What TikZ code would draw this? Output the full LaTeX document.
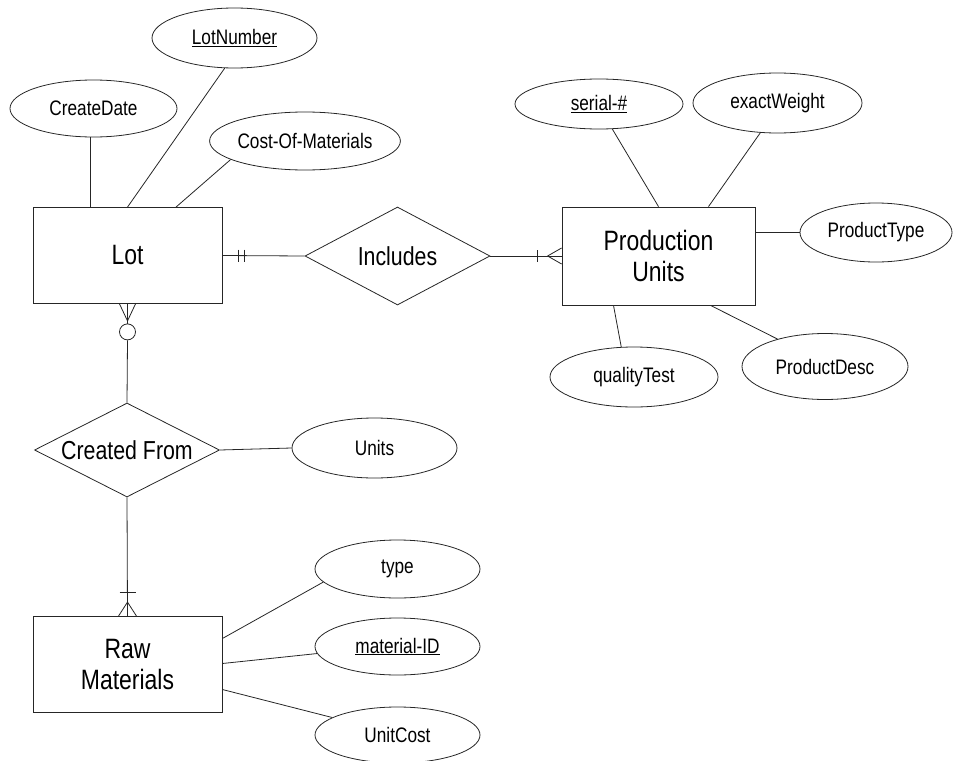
\documentclass[tikz,border=0pt]{standalone}
\usepackage{fontspec}
\setmainfont{Liberation Sans}[FakeStretch=0.82]
\usetikzlibrary{shapes.geometric,calc}
\tikzset{
  ln/.style={draw=black!85,line width=0.8pt},
  entity/.style={ln,rectangle,minimum width=189pt,minimum height=96pt,inner sep=0pt,align=center,font=\fontsize{28}{31}\selectfont},
  attr/.style={ln,ellipse,inner sep=0pt,font=\fontsize{21}{24}\selectfont},
  rel/.style={ln,diamond,aspect=2,inner sep=0pt,font=\fontsize{26}{28}\selectfont},
}
\begin{document}
\begin{tikzpicture}[x=1pt,y=-1pt]
\useasboundingbox (0,0) rectangle (955,760);
% entities
\node[entity] (lot) at (127.5,255.5) {Lot};
\node[entity,minimum width=193pt,minimum height=98pt] (pu) at (658.5,256) {Production\\Units};
\node[entity] (rm) at (127.5,664.5) {Raw\\Materials};
% relationships
\node[rel,minimum width=185pt,minimum height=98pt] (inc) at (397.5,256) {Includes};
\node[rel,minimum width=185pt,minimum height=94pt] (cf) at (127,450) {Created From};
% attributes of Lot
\node[attr,minimum width=165pt,minimum height=60pt] (ln) at (234.5,38) {\underline{LotNumber}};
\node[attr,minimum width=167pt,minimum height=57pt] (cd) at (93.5,108.5) {CreateDate};
\node[attr,minimum width=166pt,minimum height=58pt] (com) at (305,141) {Cost-Of-Materials};
% attributes of Production Units
\node[attr,minimum width=168pt,minimum height=50pt] (sn) at (599,104) {\underline{serial-\#}};
\node[attr,minimum width=169pt,minimum height=60pt] (ew) at (777.5,103) {exactWeight};
\node[attr,minimum width=152pt,minimum height=59pt] (pt) at (876,232.5) {ProductType};
\node[attr,minimum width=168pt,minimum height=60pt] (qt) at (634,377) {qualityTest};
\node[attr,minimum width=166pt,minimum height=66pt] (pd) at (825,366.5) {ProductDesc};
% attribute of Created From
\node[attr,minimum width=165pt,minimum height=60pt] (un) at (374.5,448) {Units};
% attributes of Raw Materials
\node[attr,minimum width=165pt,minimum height=58pt] (ty) at (397.5,569) {type};
\node[attr,minimum width=165pt,minimum height=57pt] (mid) at (397.5,646.5) {\underline{material-ID}};
\node[attr,minimum width=165pt,minimum height=56pt] (uc) at (397.5,735) {UnitCost};

% attribute connectors
\draw[ln] (ln.-108) -- (lot.north);
\draw[ln] (cd.-97) -- (cd.-97 |- lot.north);
\draw[ln] (com.-166) -- ($(lot.north)+(48.5,0)$);
\draw[ln] (sn.-62) -- (pu.north);
\draw[ln] (ew.-120) -- ($(pu.north)+(50,0)$);
\draw[ln] (pt.west) -- (pt.west -| pu.east);
\draw[ln] ($(pu.south)+(-45,0)$) -- (qt.113);
\draw[ln] ($(pu.south)+(52,0)$) -- (pd.150);
\draw[ln] (cf.east) -- (un.west);
\draw[ln] ($(rm.east)+(0,-26)$) -- (ty.-170);
\draw[ln] ($(rm.east)+(0,-1)$) -- (mid.-175);
\draw[ln] ($(rm.east)+(0,25)$) -- (uc.165);

% Lot -- Includes (exactly one at Lot)
\draw[ln] (lot.east) -- (inc.west);
\draw[ln] ($(lot.east)+(16,-6)$) -- ($(lot.east)+(16,6)$);
\draw[ln] ($(lot.east)+(22,-6)$) -- ($(lot.east)+(22,6)$);
% Includes -- Production Units (one or many at Production Units)
\draw[ln] (inc.east) -- (pu.west);
\draw[ln] ($(pu.west)+(-24,-6)$) -- ($(pu.west)+(-24,6)$);
\coordinate (puc) at ($(pu.west)+(-14,0)$);
\draw[ln] (puc) -- ($(pu.west)+(0,-8)$);
\draw[ln] (puc) -- ($(pu.west)+(0,8)$);
% Lot -- Created From (zero or many at Lot)
\coordinate (lotc) at ($(lot.south)+(0,17)$);
\draw[ln] (lotc) -- ($(lot.south)+(-8,0)$);
\draw[ln] (lotc) -- ($(lot.south)+(8,0)$);
\node[ln,circle,minimum size=16pt,inner sep=0pt] (lotz) at ($(lot.south)+(0,28)$) {};
\draw[ln] (lot.south) -- (lotz.north);
\draw[ln] (lotz.south) -- (cf.north);
% Created From -- Raw Materials (one or many at Raw Materials)
\draw[ln] (cf.south) -- (rm.north);
\draw[ln] ($(rm.north)+(-8,-24)$) -- ($(rm.north)+(8,-24)$);
\coordinate (rmc) at ($(rm.north)+(0,-14)$);
\draw[ln] (rmc) -- ($(rm.north)+(-9,0)$);
\draw[ln] (rmc) -- ($(rm.north)+(9,0)$);
\end{tikzpicture}
\end{document}
